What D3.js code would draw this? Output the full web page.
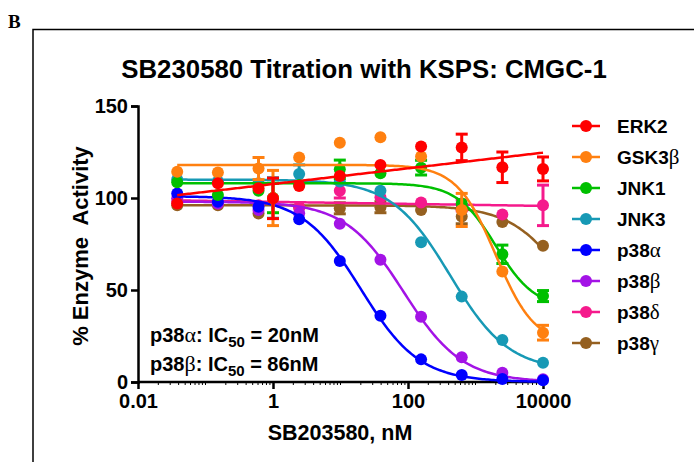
<html lang="en">
<head>
	<meta charset="utf-8">
	<script src="https://cdn.jsdelivr.net/npm/d3@7"></script>
	<style>
		body { margin: 0; background: #fff; }
		text { font-family: Arial, "Liberation Sans", sans-serif; font-weight: bold; fill: #000; }
		.greek { font-family: "Liberation Serif", "DejaVu Serif", serif; font-weight: normal; }
	</style>
</head>
<body>
	<script type="text/javascript">
		var w = 694;
		var h = 462;

		// concentrations, nM (4-fold series + one extra point at 1 nM)
		var conc = [0.0381, 0.1526, 0.6104, 1, 2.441, 9.766, 39.06, 156.25, 625, 2500, 10000];

		var names = ["ERK2", "GSK3\u03b2", "JNK1", "JNK3", "p38\u03b1", "p38\u03b2", "p38\u03b4", "p38\u03b3"];
		var colors = ["#ff0000", "#ff8010", "#00c000", "#1799b5", "#0000ff", "#a313e6", "#f51a8c", "#956020"];

		var erk2   = [97, 108, 105.3, 99.8, 106.5, 112, 118, 128, 127.5, 116.7, 115.8];
		var gsk3b  = [114.3, 113.8, 116, 100, 122, 130, 133, 122.5, 93.5, 60, 26.8];
		var jnk1   = [108.5, 101.6, 104, 100, 107, 115.6, 113.4, 116.5, 97, 69.4, 46.7];
		var jnk3   = [110, 109, 108, 100, 113, 109, 104, 76, 46.4, 22.8, 10.5];
		var p38a   = [102.5, 98, 95.3, null, 88.4, 65.8, 36, 12.3, 3.8, 1.6, 1];
		var p38b   = [99.8, 97, 93.5, null, 91.7, 86, 66.5, 35.5, 13.4, 5, 1.5];
		var p38d   = [98, 97, 96, null, 95, 104, 100.4, 97.5, 96, 91, 96];
		var p38g   = [96, 96, 91.6, null, 95, 94.4, 95, 93.5, 90, 87, 74];

		var erk2Err  = [0, 0, 0, 11, 0, 0, 0, 0, 7.2, 8.3, 6.5];
		var gsk3bErr = [0, 0, 6, 15, 0, 0, 0, 0, 9, 0, 4];
		var jnk1Err  = [0, 0, 0, 8, 0, 5, 0, 4, 0, 5, 3];
		var jnk3Err  = [0, 0, 0, 11, 5, 0, 0, 0, 0, 0, 0];
		var p38aErr  = [0, 0, 0, 0, 0, 0, 0, 0, 0, 0, 0];
		var p38bErr  = [0, 0, 0, 0, 0, 0, 0, 0, 0, 0, 0];
		var p38dErr  = [0, 0, 0, 0, 0, 4, 0, 0, 3, 0, 11];
		var p38gErr  = [0, 0, 0, 0, 0, 3, 3, 0, 4, 0, 0];

		// curve fits: ["lin", intercept, slope per decade] or ["ic50", top, bottom, IC50, hill]
		var fits = [
			["lin", 107.6, 4.26],
			["ic50", 118, 20, 2000, 1.5],
			["ic50", 108, 40, 2000, 1.5],
			["ic50", 110, 6, 420, 1],
			["ic50", 101, 0, 20, 1],
			["ic50", 98, 0, 86, 1],
			["lin", 97.9, -0.55],
			["ic50", 96, 0, 30000, 1]
		];

		var values = [erk2, gsk3b, jnk1, jnk3, p38a, p38b, p38d, p38g];
		var errs = [erk2Err, gsk3bErr, jnk1Err, jnk3Err, p38aErr, p38bErr, p38dErr, p38gErr];

		var xTicks = [0.01, 1, 100, 10000];
		var yTicks = [0, 50, 100, 150];

		var svg = d3.select("body")
				.append("svg")
				.attr("width", w)
				.attr("height", h);

		var x = d3.scaleLog().domain([0.01, 10000]).range([138, 543]);
		var y = d3.scaleLinear().domain([0, 150]).range([382, 106]);

		// panel frame + letter
		svg.append("path")
			.attr("d", "M33,462V29.5H694")
			.attr("fill", "none")
			.attr("stroke", "#000")
			.attr("stroke-width", 1.5);
		svg.append("text")
			.attr("x", 8).attr("y", 28)
			.style("font-family", "'Liberation Serif', 'Times New Roman', serif")
			.style("font-size", "19px")
			.text("B");

		svg.append("text")
			.attr("x", 364).attr("y", 78)
			.attr("text-anchor", "middle")
			.style("font-size", "25.8px")
			.text("SB230580 Titration with KSPS: CMGC-1");

		// axes
		var yAxis = d3.axisLeft(y).tickValues(yTicks).tickSize(7).tickPadding(3).tickFormat(d3.format("d"));
		var gy = svg.append("g").attr("transform", "translate(138,0)").call(yAxis);
		gy.select(".domain").attr("stroke-width", 2.5);
		gy.selectAll(".tick line").attr("stroke-width", 2.5);
		gy.selectAll(".tick text").style("font-size", "20px").style("font-family", "Arial, 'Liberation Sans', sans-serif");

		var minor = [];
		for (var e = -2; e < 4; e++) {
			for (var m = 2; m < 10; m++) minor.push(m * Math.pow(10, e));
		}
		svg.append("g")
			.attr("transform", "translate(0,382)")
			.selectAll("line")
			.data(minor.concat([0.1, 10, 1000]))
			.enter().append("line")
			.attr("x1", function(d) { return x(d); })
			.attr("x2", function(d) { return x(d); })
			.attr("y1", 0).attr("y2", 3)
			.attr("stroke", "#000").attr("stroke-width", 1);

		var xAxis = d3.axisBottom(x).tickValues(xTicks).tickSize(7).tickPadding(5)
			.tickFormat(function(d) { return d < 1 ? "0.01" : d3.format("d")(d); });
		var gx = svg.append("g").attr("transform", "translate(0,382)").call(xAxis);
		gx.select(".domain").attr("stroke-width", 2.5).attr("d", "M138,0H545");
		gx.selectAll(".tick line").attr("stroke-width", 2.5);
		gx.selectAll(".tick text").style("font-size", "20px").style("font-family", "Arial, 'Liberation Sans', sans-serif");

		svg.append("text")
			.attr("x", 340).attr("y", 440)
			.attr("text-anchor", "middle")
			.style("font-size", "21.5px")
			.text("SB203580, nM");

		svg.append("text")
			.attr("transform", "translate(88,246) rotate(-90)")
			.attr("text-anchor", "middle")
			.style("font-size", "22px")
			.style("white-space", "pre")
			.attr("xml:space", "preserve")
			.text("% Enzyme  Activity");

		// IC50 notes
		var notes = [["\u03b1", "20"], ["\u03b2", "86"]];
		notes.forEach(function(n, i) {
			var t = svg.append("text")
				.attr("x", 150).attr("y", 342 + i * 29)
				.style("font-size", "20px");
			t.append("tspan").text("p38");
			t.append("tspan").attr("class", "greek").style("font-size", "22px").text(n[0]);
			t.append("tspan").text(": IC");
			t.append("tspan").attr("dy", 5).style("font-size", "15px").text("50");
			t.append("tspan").attr("dy", -5).text(" = " + n[1] + "nM");
		});

		function fitY(f, c) {
			if (f[0] == "lin") return f[1] + f[2] * Math.log10(c);
			return f[2] + (f[1] - f[2]) / (1 + Math.pow(c / f[3], f[4]));
		}

		var line = d3.line()
			.x(function(d) { return x(d[0]); })
			.y(function(d) { return y(d[1]); })
			.curve(d3.curveLinear);

		var fitX = d3.range(0, 201).map(function(i) {
			return Math.pow(10, Math.log10(conc[0]) + i / 200 * (4 - Math.log10(conc[0])));
		});

		// draw last series first so ERK2 sits on top
		d3.range(names.length - 1, -1, -1).forEach(function(s) {
			var g = svg.append("g");
			var col = colors[s];
			g.append("path")
				.attr("d", line(fitX.map(function(c) { return [c, fitY(fits[s], c)]; })))
				.attr("fill", "none")
				.attr("stroke", col)
				.attr("stroke-width", 2.5);

			var pts = conc.map(function(c, i) { return { c: c, v: values[s][i], e: errs[s][i] }; })
				.filter(function(d) { return d.v != null; });

			var eb = g.selectAll(".err").data(pts.filter(function(d) { return d.e > 0; })).enter().append("g");
			eb.append("line")
				.attr("x1", function(d) { return x(d.c); }).attr("x2", function(d) { return x(d.c); })
				.attr("y1", function(d) { return y(d.v - d.e); }).attr("y2", function(d) { return y(d.v + d.e); })
				.attr("stroke", col).attr("stroke-width", 3);
			[-1, 1].forEach(function(sg) {
				eb.append("line")
					.attr("x1", function(d) { return x(d.c) - 6; }).attr("x2", function(d) { return x(d.c) + 6; })
					.attr("y1", function(d) { return y(d.v + sg * d.e); }).attr("y2", function(d) { return y(d.v + sg * d.e); })
					.attr("stroke", col).attr("stroke-width", 3);
			});

			g.selectAll("circle").data(pts).enter().append("circle")
				.attr("cx", function(d) { return x(d.c); })
				.attr("cy", function(d) { return y(d.v); })
				.attr("r", 6)
				.attr("fill", col);
		});

		// legend
		var lg = svg.append("g").selectAll("g").data(names).enter().append("g")
			.attr("transform", function(d, i) { return "translate(0," + (126 + i * 31) + ")"; });
		lg.append("line").attr("x1", 572).attr("x2", 600).attr("y1", 0).attr("y2", 0)
			.attr("stroke", function(d, i) { return colors[i]; }).attr("stroke-width", 2.5);
		lg.append("circle").attr("cx", 586).attr("cy", 0).attr("r", 6)
			.attr("fill", function(d, i) { return colors[i]; });
		lg.each(function(d) {
			var t = d3.select(this).append("text").attr("x", 617).attr("y", 7).style("font-size", "19px");
			var last = d.slice(-1);
			if (/[\u03b1-\u03b4]/.test(last)) {
				t.append("tspan").text(d.slice(0, -1));
				t.append("tspan").attr("class", "greek").style("font-size", "21px").text(last);
			} else {
				t.text(d);
			}
		});
	</script>
</body>
</html>
